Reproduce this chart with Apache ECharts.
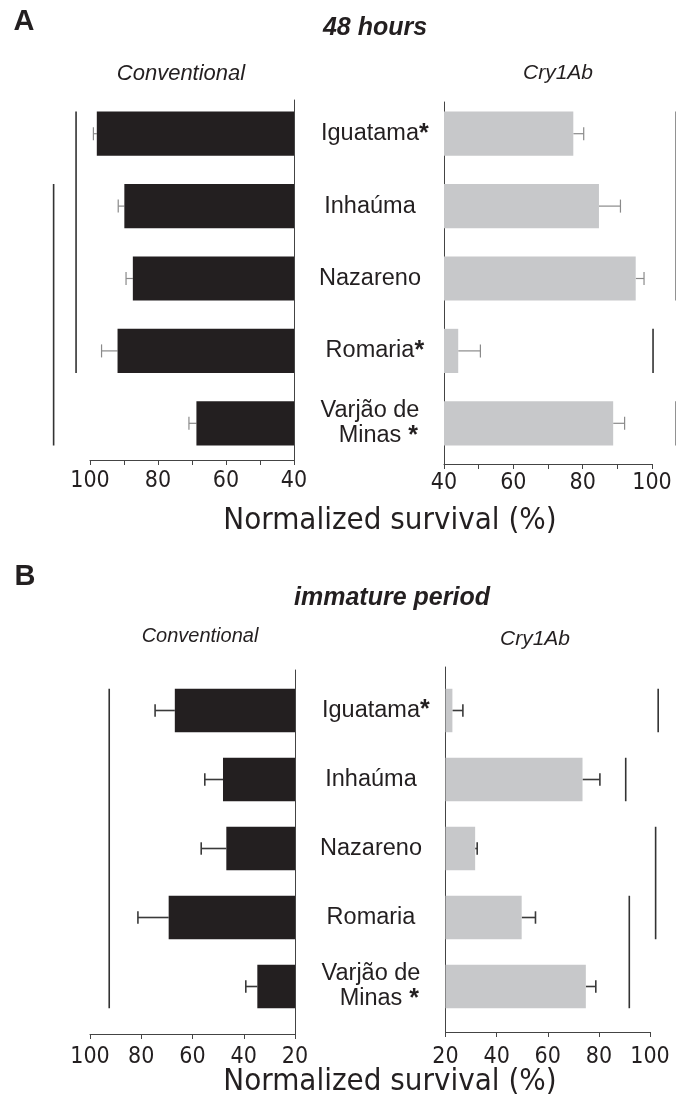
<!DOCTYPE html>
<html>
<head>
<meta charset="utf-8">
<script src="https://cdn.jsdelivr.net/npm/echarts@6/dist/echarts.min.js"></script>
<style>
  html, body { margin: 0; padding: 0; background: #fff; }
  #chart { width: 676px; height: 1108px; }
</style>
</head>
<body>
<div id="chart"></div>
<script>
// populations (same order in both panels)
const places = ['Iguatama', 'Inhaúma', 'Nazareno', 'Romaria', 'Varjão de\nMinas'];
const stars48 = [1, 0, 0, 1, 1];
const starsImm = [1, 0, 0, 0, 1];

// A - 48 hours
const conv48 = [98.0, 89.9, 87.4, 91.9, 68.7];
const conv48Err = [1.0, 1.8, 2.0, 4.7, 2.2];
const cry48 = [77.3, 84.7, 95.3, 44.1, 88.8];
const cry48Err = [3.0, 6.2, 2.4, 6.4, 3.3];

// B - immature period
const convImm = [66.9, 48.1, 46.8, 69.3, 34.7];
const convImmErr = [7.7, 7.1, 9.8, 12.0, 4.5];
const cryImm = [22.7, 73.6, 31.6, 49.8, 74.9];
const cryImmErr = [4.1, 6.8, 0.8, 5.4, 3.9];

// bracket lines: [x value, first row, last row]
const conv48Groups = [[104.1, 0, 3], [110.7, 1, 4]];
const cry48Groups = [[107, 0, 2], [100.3, 3, 3], [107, 4, 4]];
const convImmGroups = [[92.5, 0, 4]];
const cryImmGroups = [[103.2, 0, 0], [90.5, 1, 1], [102.2, 2, 3], [91.9, 3, 4]];

// tick labels
const ticks48 = [40, 60, 80, 100];
const ticksImm = [20, 40, 60, 80, 100];

const ink = '#231f20';
const narrow = '"Liberation Sans Narrow", "Arial Narrow", "DejaVu Sans Condensed", sans-serif';
const sans = '"Liberation Sans", Arial, sans-serif';

let grids = [], xAxes = [], yAxes = [], series = [];

function placeLabel(stars) {
  return function (name, idx) {
    const lines = name.split('\n');
    const last = lines.length - 1;
    return lines.map(function (ln, k) {
      if (k === last && stars[idx]) {
        const s = lines.length > 1 ? ' *' : '*';
        return '{h|' + s + '}{n|' + ln + '}{s|' + s + '}';
      }
      return '{n|' + ln + '}';
    }).join('\n');
  };
}

function side(o) {
  const fi = grids.length, di = fi + 1;
  grids.push(o.frame, o.data);
  const axisStyle = { color: '#444', width: 1 };

  // frame: the visible axes
  xAxes.push({
    gridIndex: fi, type: 'value', min: o.min, max: o.max, interval: o.interval, inverse: o.inverse,
    axisLine: { show: true, onZero: false, lineStyle: axisStyle },
    axisTick: { show: true, length: 5, lineStyle: axisStyle },
    axisLabel: {
      margin: o.labelMargin, fontFamily: narrow, fontSize: 23, color: ink,
      formatter: function (v) { return o.ticks.indexOf(v) >= 0 ? String(v) : ''; }
    },
    splitLine: { show: false }
  });
  yAxes.push({
    gridIndex: fi, type: 'value', min: 0, max: 1, position: o.inverse ? 'right' : 'left',
    axisLine: { show: true, onZero: false, lineStyle: axisStyle },
    axisTick: { show: false }, axisLabel: { show: false }, splitLine: { show: false }
  });

  // data grid
  xAxes.push({ gridIndex: di, type: 'value', min: o.min, max: o.max, inverse: o.inverse, show: false });
  yAxes.push({
    gridIndex: di, type: 'category', data: places, inverse: true, position: 'right',
    axisLine: { show: false }, axisTick: { show: false },
    axisLabel: {
      show: !!o.stars, align: 'center', margin: 76,
      formatter: o.stars ? placeLabel(o.stars) : '',
      rich: {
        n: { fontFamily: sans, fontSize: 23.5, color: ink, lineHeight: 25 },
        s: { fontFamily: sans, fontSize: 25, fontWeight: 'bold', color: ink, lineHeight: 25 },
        h: { fontFamily: sans, fontSize: 25, fontWeight: 'bold', color: 'rgba(0,0,0,0)', lineHeight: 25 }
      }
    }
  });

  series.push({
    type: 'bar', xAxisIndex: di, yAxisIndex: di, data: o.values,
    barCategoryGap: o.gap, itemStyle: { color: o.color }, silent: true
  });

  series.push({
    type: 'custom', xAxisIndex: di, yAxisIndex: di,
    data: o.values.map(function (v, i) { return [i, v, v + o.errs[i]]; }),
    encode: { x: [1, 2], y: 0 },
    renderItem: function (params, api) {
      const y = api.value(0);
      const p0 = api.coord([api.value(1), y]);
      const p1 = api.coord([api.value(2), y]);
      const cap = api.size([0, 1])[1] * 0.09;
      const st = { stroke: o.errColor, lineWidth: o.errWidth };
      return { type: 'group', children: [
        { type: 'line', shape: { x1: p0[0], y1: p0[1], x2: p1[0], y2: p1[1] }, style: st },
        { type: 'line', shape: { x1: p1[0], y1: p1[1] - cap, x2: p1[0], y2: p1[1] + cap }, style: st }
      ] };
    }
  });

  const ratio = 1 - parseFloat(o.gap) / 100;
  series.push({
    type: 'custom', xAxisIndex: di, yAxisIndex: di, clip: false,
    data: o.groups,
    encode: { x: 0, y: [1, 2] },
    renderItem: function (params, api) {
      const x = api.value(0);
      const a = api.coord([x, api.value(1)]);
      const b = api.coord([x, api.value(2)]);
      const half = api.size([0, 1])[1] * ratio / 2;
      return { type: 'line', shape: { x1: a[0], y1: a[1] - half, x2: b[0], y2: b[1] + half },
        style: { stroke: '#333', lineWidth: 1.6 } };
    }
  });
}

// A, Conventional
side({ frame: { left: 90, top: 100, width: 204, height: 360 },
  data: { left: 90, top: 97.5, width: 204, height: 362 },
  min: 40, max: 100, interval: 10, inverse: true, ticks: ticks48, labelMargin: 10,
  values: conv48, errs: conv48Err, groups: conv48Groups, color: ink, gap: '39%',
  errColor: '#8a8a8a', errWidth: 1.2, stars: stars48 });
// A, Cry1Ab
side({ frame: { left: 444, top: 102, width: 208, height: 362 },
  data: { left: 444, top: 97.5, width: 208, height: 362 },
  min: 40, max: 100, interval: 10, inverse: false, ticks: ticks48, labelMargin: 8,
  values: cry48, errs: cry48Err, groups: cry48Groups, color: '#c7c8ca', gap: '39%',
  errColor: '#8a8a8a', errWidth: 1.2 });
// B, Conventional
side({ frame: { left: 90, top: 670, width: 205, height: 364 },
  data: { left: 90, top: 676, width: 205, height: 345 },
  min: 20, max: 100, interval: 20, inverse: true, ticks: ticksImm, labelMargin: 12,
  values: convImm, errs: convImmErr, groups: convImmGroups, color: ink, gap: '37%',
  errColor: '#3a3a3a', errWidth: 1.6, stars: starsImm });
// B, Cry1Ab
side({ frame: { left: 445.5, top: 667, width: 204.5, height: 365 },
  data: { left: 445.5, top: 676, width: 204.5, height: 345 },
  min: 20, max: 100, interval: 20, inverse: false, ticks: ticksImm, labelMargin: 14,
  values: cryImm, errs: cryImmErr, groups: cryImmGroups, color: '#c7c8ca', gap: '37%',
  errColor: '#3a3a3a', errWidth: 1.6 });

function label(text, x, y, size, weight, style, family) {
  return { text: text, left: x, top: y, padding: 0, textAlign: 'center', textVerticalAlign: 'middle',
    textStyle: { fontFamily: family || sans, fontSize: size, fontWeight: weight || 'normal',
      fontStyle: style || 'normal', color: ink } };
}

const titles = [
  label('A', 24, 22, 29, 'bold'),
  label('48 hours', 375, 28, 25, 'bold', 'italic'),
  label('Conventional', 181, 74, 22, 'normal', 'italic'),
  label('Cry1Ab', 558, 73, 21, 'normal', 'italic'),
  label('Normalized survival (%)', 390, 521, 31, 'normal', 'normal', narrow),
  label('B', 25, 577, 29, 'bold'),
  label('immature period', 392, 598, 25, 'bold', 'italic'),
  label('Conventional', 200, 636, 20, 'normal', 'italic'),
  label('Cry1Ab', 535, 639, 21, 'normal', 'italic'),
  label('Normalized survival (%)', 390, 1082, 31, 'normal', 'normal', narrow)
];

const myChart = echarts.init(document.getElementById('chart'));
myChart.setOption({
  animation: false,
  backgroundColor: '#fff',
  title: titles,
  grid: grids,
  xAxis: xAxes,
  yAxis: yAxes,
  series: series
});
</script>
</body>
</html>
